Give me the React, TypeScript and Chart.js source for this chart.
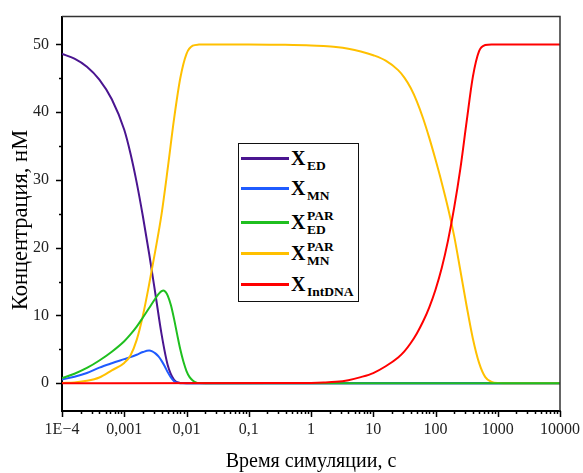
import React, { useEffect, useRef } from "react";
import { Chart, registerables } from "chart.js";

Chart.register(...registerables);

// ---- Data (time in s, concentration in nM) ----
const tED = [1e-4, 1.585e-4, 2.512e-4, 3.981e-4, 6.31e-4, 1e-3, 1.259e-3, 1.585e-3, 1.995e-3, 2.512e-3, 3.162e-3, 3.981e-3, 5.012e-3, 6.31e-3, 7.943e-3, 1e-2, 1e4];
const xED = [48.6, 47.9, 46.7, 44.8, 41.9, 37.4, 33.9, 29.6, 24.6, 19.1, 13.2, 7.2, 2.6, 0.5, 0.05, 0, 0];

const tMN = [1e-4, 1.585e-4, 2.512e-4, 3.981e-4, 6.31e-4, 1e-3, 1.259e-3, 1.585e-3, 1.995e-3, 2.512e-3, 2.818e-3, 3.162e-3, 3.548e-3, 3.981e-3, 4.467e-3, 5.012e-3, 5.623e-3, 6.31e-3, 7.079e-3, 7.943e-3, 1e4];
const xMN = [0.55, 0.95, 1.5, 2.3, 2.95, 3.55, 3.85, 4.2, 4.6, 4.82, 4.7, 4.4, 3.95, 3.3, 2.5, 1.6, 0.85, 0.3, 0.08, 0, 0];

const tEDpar = [1e-4, 1.585e-4, 2.512e-4, 3.981e-4, 6.31e-4, 1e-3, 1.259e-3, 1.585e-3, 1.995e-3, 2.512e-3, 3.162e-3, 3.548e-3, 3.981e-3, 4.266e-3, 4.677e-3, 5.012e-3, 5.623e-3, 6.31e-3, 7.079e-3, 7.943e-3, 8.913e-3, 1e-2, 1.122e-2, 1.259e-2, 1.413e-2, 1.585e-2, 1.995e-2, 1e4];
const xEDpar = [0.75, 1.4, 2.25, 3.35, 4.65, 6.2, 7.2, 8.35, 9.7, 11.1, 12.5, 13.15, 13.6, 13.7, 13.4, 12.9, 11.5, 9.5, 7.2, 5.0, 3.2, 1.8, 0.9, 0.4, 0.12, 0.02, 0, 0];

const tMNpar = [1e-4, 1.585e-4, 2.512e-4, 3.981e-4, 6.31e-4, 1e-3, 1.259e-3, 1.585e-3, 1.995e-3, 2.512e-3, 3.162e-3, 3.981e-3, 5.012e-3, 6.31e-3, 7.943e-3, 1e-2, 1.259e-2, 1.585e-2, 1.995e-2, 0.1, 0.3162, 1, 1.585, 2.512, 3.981, 6.31, 10, 15.85, 25.12, 31.62, 39.81, 50.12, 63.1, 79.43, 100, 125.9, 158.5, 199.5, 251.2, 316.2, 398.1, 501.2, 631, 794.3, 1000, 1585, 1e4];
const xMNpar = [0.04, 0.12, 0.35, 0.85, 1.9, 3.0, 4.1, 6.4, 10.0, 14.6, 19.6, 25.0, 31.8, 39.0, 45.0, 48.6, 49.8, 49.97, 50.0, 50.0, 49.95, 49.85, 49.75, 49.6, 49.35, 48.95, 48.4, 47.6, 46.2, 45.1, 43.6, 41.6, 39.1, 36.2, 33.0, 29.6, 25.9, 21.7, 16.6, 11.4, 6.6, 3.0, 0.9, 0.2, 0.03, 0, 0];

const tInt = [1e-4, 0.3162, 1, 1.585, 2.512, 3.981, 6.31, 10, 15.85, 25.12, 31.62, 39.81, 50.12, 63.1, 79.43, 100, 125.9, 158.5, 199.5, 251.2, 316.2, 398.1, 501.2, 631, 794.3, 1000, 1e4];
const xInt = [0, 0.02, 0.05, 0.1, 0.2, 0.45, 0.9, 1.5, 2.5, 3.8, 4.7, 5.9, 7.35, 9.1, 11.2, 13.8, 17.0, 21.0, 25.9, 31.7, 38.6, 45.2, 49.0, 49.9, 50, 50, 50];

const seriesColors = ["#4a1590", "#1f5bff", "#1fbf1f", "#ffc000", "#ff0000"];
const legendItems = [
  { base: "X", sub: "ED", sup: "" },
  { base: "X", sub: "MN", sup: "" },
  { base: "X", sub: "ED", sup: "PAR" },
  { base: "X", sub: "MN", sup: "PAR" },
  { base: "X", sub: "IntDNA", sup: "" },
];

const xMajorTicks = [1e-4, 1e-3, 1e-2, 1e-1, 1, 10, 100, 1000, 10000];
const xTickLabels = ["1E\u22124", "0,001", "0,01", "0,1", "1", "10", "100", "1000", "10000"];
const yMajorTicks = [0, 10, 20, 30, 40, 50];
const yMinorTicks = [5, 15, 25, 35, 45];
const xTitle = "Время симуляции, с";
const yTitle = "Концентрация, нМ";

const FONT = '"Liberation Serif", "Times New Roman", serif';

function pts(t: number[], v: number[]) {
  return t.map((x, i) => ({ x, y: v[i] }));
}

function isXMajor(v: number) {
  return xMajorTicks.some((m) => Math.abs(v - m) / m < 1e-6);
}

const decorPlugin = {
  id: "decor",
  afterDraw(chart: any) {
    const { ctx, chartArea: a, scales } = chart;
    ctx.save();
    ctx.strokeStyle = "#000";
    ctx.lineWidth = 1.5;
    const xs = scales.x;
    xs.ticks.forEach((t: any) => {
      const px = Math.round(xs.getPixelForValue(t.value)) + 0.5;
      const len = isXMajor(t.value) ? 6 : 3;
      ctx.beginPath();
      ctx.moveTo(px, a.bottom);
      ctx.lineTo(px, a.bottom + len);
      ctx.stroke();
    });
    const ys = scales.y;
    ys.ticks.forEach((t: any) => {
      const py = Math.round(ys.getPixelForValue(t.value)) + 0.5;
      const len = yMajorTicks.includes(t.value) ? 6 : 3;
      ctx.beginPath();
      ctx.moveTo(a.left, py);
      ctx.lineTo(a.left - len, py);
      ctx.stroke();
    });
    // frame top / right
    ctx.strokeStyle = "#333";
    ctx.lineWidth = 1.5;
    ctx.beginPath();
    ctx.moveTo(a.left, a.top);
    ctx.lineTo(a.right, a.top);
    ctx.lineTo(a.right, a.bottom);
    ctx.stroke();
    // axis titles
    ctx.fillStyle = "#000";
    ctx.textAlign = "center";
    ctx.textBaseline = "alphabetic";
    ctx.font = `20px ${FONT}`;
    ctx.fillText(xTitle, (a.left + a.right) / 2, 467);
    ctx.font = `22.5px ${FONT}`;
    ctx.translate(26.5, 220);
    ctx.rotate(-Math.PI / 2);
    ctx.fillText(yTitle, 0, 0);
    ctx.restore();
  },
};

export default function App() {
  const ref = useRef<HTMLCanvasElement | null>(null);

  useEffect(() => {
    if (!ref.current) return;
    const mk = (label: string, t: number[], v: number[], i: number, order: number) => ({
      label,
      data: pts(t, v),
      borderColor: seriesColors[i],
      backgroundColor: seriesColors[i],
      borderWidth: 2,
      pointRadius: 0,
      cubicInterpolationMode: "monotone" as const,
      order,
    });
    const chart = new Chart(ref.current, {
      type: "line",
      data: {
        datasets: [
          mk("X_ED", tED, xED, 0, 4),
          mk("X_MN", tMN, xMN, 1, 3),
          mk("X_ED^PAR", tEDpar, xEDpar, 2, 1),
          mk("X_MN^PAR", tMNpar, xMNpar, 3, 2),
          mk("X_IntDNA", tInt, xInt, 4, 0),
        ],
      },
      options: {
        responsive: false,
        animation: false,
        events: [],
        layout: { autoPadding: false, padding: { top: 14, right: 20, left: 0, bottom: 0 } },
        plugins: { legend: { display: false }, tooltip: { enabled: false } },
        scales: {
          x: {
            type: "logarithmic",
            min: 1e-4,
            max: 1e4,
            afterFit: (s: any) => {
              s.height = 62;
            },
            afterBuildTicks: (s: any) => {
              const ticks: any[] = [];
              for (let d = 0; d < xMajorTicks.length; d++) {
                const m = xMajorTicks[d];
                ticks.push({ value: m });
                if (d < xMajorTicks.length - 1) {
                  for (let k = 2; k <= 9; k++) ticks.push({ value: m * k });
                }
              }
              s.ticks = ticks;
            },
            grid: { display: true, drawOnChartArea: false, drawTicks: true, tickLength: 6, tickColor: "rgba(0,0,0,0)" },
            border: { display: true, color: "#000", width: 2 },
            ticks: {
              autoSkip: false,
              maxRotation: 0,
              minRotation: 0,
              padding: 3,
              color: "#222",
              font: { family: FONT, size: 16 },
              callback: (v: any) => {
                const i = xMajorTicks.findIndex((m) => Math.abs(Number(v) - m) / m < 1e-6);
                return i >= 0 ? xTickLabels[i] : "";
              },
            },
          },
          y: {
            type: "linear",
            min: -4.1,
            max: 54.1,
            afterFit: (s: any) => {
              s.width = 62;
            },
            afterBuildTicks: (s: any) => {
              s.ticks = [...yMajorTicks, ...yMinorTicks].sort((p, q) => p - q).map((v) => ({ value: v }));
            },
            grid: { display: true, drawOnChartArea: false, drawTicks: true, tickLength: 6, tickColor: "rgba(0,0,0,0)" },
            border: { display: true, color: "#000", width: 2 },
            ticks: {
              autoSkip: false,
              padding: 7,
              color: "#222",
              font: { family: FONT, size: 16 },
              callback: (v: any) => (yMajorTicks.includes(Number(v)) ? String(v) : ""),
            },
          },
        },
      },
      plugins: [decorPlugin],
    });
    return () => chart.destroy();
  }, []);

  const lineYs = [158, 188, 222, 253, 284];

  return (
    <div style={{ position: "absolute", left: 0, top: 0, width: 583, height: 473, background: "#fff", overflow: "hidden" }}>
      <canvas ref={ref} width={583} height={473} style={{ display: "block" }} />
      <div
        style={{
          position: "absolute",
          left: 238,
          top: 143,
          width: 121,
          height: 159,
          boxSizing: "border-box",
          border: "1.5px solid #111",
          background: "#fff",
        }}
      />
      {legendItems.map((it, i) => {
        const y = lineYs[i];
        return (
          <React.Fragment key={i}>
            <div
              style={{
                position: "absolute",
                left: 241,
                top: y - 1,
                width: 48,
                height: 2.5,
                background: seriesColors[i],
              }}
            />
            <span
              style={{
                position: "absolute",
                left: 291,
                top: y - 10,
                fontFamily: FONT,
                fontWeight: "bold",
                fontSize: 20,
                lineHeight: "20px",
                color: "#000",
                whiteSpace: "nowrap",
              }}
            >
              {it.base}
            </span>
            {it.sup ? (
              <span
                style={{
                  position: "absolute",
                  left: 307,
                  top: y - 13.5,
                  fontFamily: FONT,
                  fontWeight: "bold",
                  fontSize: 13.5,
                  lineHeight: "13.5px",
                  color: "#000",
                  whiteSpace: "nowrap",
                }}
              >
                {it.sup}
              </span>
            ) : null}
            <span
              style={{
                position: "absolute",
                left: 307,
                top: y + 0.5,
                fontFamily: FONT,
                fontWeight: "bold",
                fontSize: 13.5,
                lineHeight: "13.5px",
                color: "#000",
                whiteSpace: "nowrap",
              }}
            >
              {it.sub}
            </span>
          </React.Fragment>
        );
      })}
    </div>
  );
}
